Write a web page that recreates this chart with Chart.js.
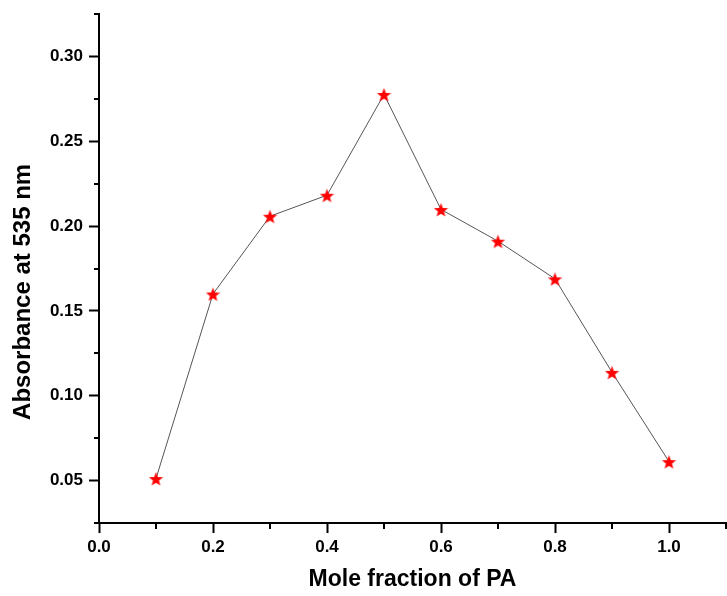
<!DOCTYPE html>
<html>
<head>
<meta charset="utf-8">
<script src="https://cdn.jsdelivr.net/npm/chart.js@4/dist/chart.umd.min.js"></script>
<style>
  html, body { margin:0; padding:0; background:#fff; }
  #wrap { width:727px; height:596px; }
</style>
</head>
<body>
<div id="wrap"><canvas id="c" width="727" height="596"></canvas></div>
<script>
const moleFraction = [0.1, 0.2, 0.3, 0.4, 0.5, 0.6, 0.7, 0.8, 0.9, 1.0];
const absorbance   = [0.0512, 0.160, 0.2058, 0.2182, 0.2776, 0.2098, 0.1911, 0.1689, 0.1138, 0.0612];
const xMajor = [0.0, 0.2, 0.4, 0.6, 0.8, 1.0];
const xMinor = [0.1, 0.3, 0.5, 0.7, 0.9, 1.1];
const yMajor = [0.05, 0.10, 0.15, 0.20, 0.25, 0.30];
const yMinor = [0.025, 0.075, 0.125, 0.175, 0.225, 0.275, 0.325];

const FONT = '"Liberation Sans", Arial, sans-serif';

// filled 5-point star used as the point marker
function makeStar(size, color) {
  const cv = document.createElement('canvas');
  cv.width = cv.height = size;
  const g = cv.getContext('2d');
  const c = size / 2, ro = size / 2, ri = ro * 0.42;
  g.beginPath();
  for (let i = 0; i < 10; i++) {
    const r = i % 2 ? ri : ro;
    const a = -Math.PI / 2 + i * Math.PI / 5;
    g.lineTo(c + r * Math.cos(a), c + 1 + r * Math.sin(a));
  }
  g.closePath();
  g.fillStyle = color;
  g.fill();
  return cv;
}
const star = makeStar(15, '#ff0000');

// short minor ticks, Chart.js only has one tick length per axis
const minorTicks = {
  id: 'minorTicks',
  afterDraw(chart) {
    const { ctx, scales: { x, y }, chartArea } = chart;
    ctx.save();
    ctx.strokeStyle = '#000';
    ctx.lineWidth = 2;
    ctx.beginPath();
    xMinor.forEach(v => {
      const px = Math.round(x.getPixelForValue(v));
      ctx.moveTo(px, chartArea.bottom);
      ctx.lineTo(px, chartArea.bottom + 6);
    });
    yMinor.forEach(v => {
      const py = Math.round(y.getPixelForValue(v));
      ctx.moveTo(chartArea.left, py);
      ctx.lineTo(chartArea.left - 5, py);
    });
    ctx.stroke();
    ctx.restore();
  }
};

new Chart(document.getElementById('c'), {
  type: 'line',
  data: {
    datasets: [{
      label: 'Absorbance',
      data: moleFraction.map((x, i) => ({ x, y: absorbance[i] })),
      borderColor: '#555',
      borderWidth: 1,
      pointStyle: star,
      pointRadius: 7,
      tension: 0
    }]
  },
  options: {
    responsive: false,
    animation: false,
    layout: { autoPadding: false, padding: { top: 14, right: 1, left: 0, bottom: 0 } },
    plugins: { legend: { display: false }, tooltip: { enabled: false } },
    scales: {
      x: {
        type: 'linear', min: 0, max: 1.1,
        afterBuildTicks: s => { s.ticks = xMajor.map(v => ({ value: v })); },
        afterFit: s => { s.height = 73; s.paddingLeft = 0; s.paddingRight = 0; },
        border: { color: '#000', width: 2 },
        grid: { drawOnChartArea: false, tickLength: 10, tickWidth: 2, tickColor: '#000' },
        ticks: { color: '#000', font: { family: FONT, size: 17, weight: 'bold' }, padding: 4,
                 maxRotation: 0, callback: v => v.toFixed(1) },
        title: { display: true, text: 'Mole fraction of PA', color: '#000',
                 font: { family: FONT, size: 23, weight: 'bold' }, padding: { top: 0, bottom: 3 } }
      },
      y: {
        type: 'linear', min: 0.025, max: 0.325,
        afterBuildTicks: s => { s.ticks = yMajor.map(v => ({ value: v })); },
        afterFit: s => { s.width = 99; s.paddingTop = 0; s.paddingBottom = 0; },
        border: { color: '#000', width: 2 },
        grid: { drawOnChartArea: false, tickLength: 10, tickWidth: 2, tickColor: '#000' },
        ticks: { color: '#000', font: { family: FONT, size: 17, weight: 'bold' }, padding: 6,
                 callback: v => v.toFixed(2) },
        title: { display: true, text: 'Absorbance at 535 nm       ', color: '#000',
                 font: { family: FONT, size: 24, weight: 'bold' }, padding: { top: 9, bottom: 0 } }
      }
    }
  },
  plugins: [minorTicks]
});
</script>
</body>
</html>
